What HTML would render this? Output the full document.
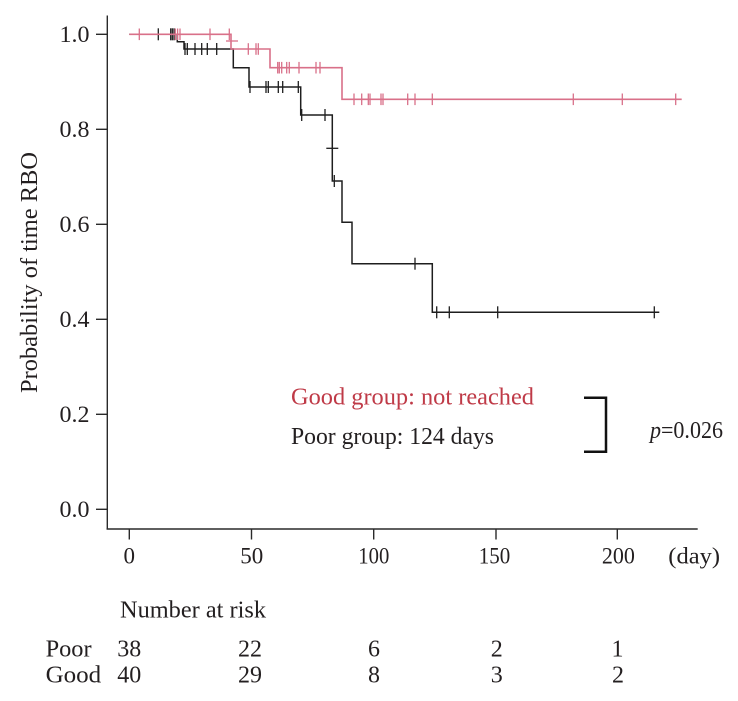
<!DOCTYPE html>
<html>
<head>
<meta charset="utf-8">
<style>
  html,body{margin:0;padding:0;background:#fff;}
  svg{display:block;}
  text{font-family:"Liberation Serif",serif;fill:#231f20;}
</style>
</head>
<body>
<svg width="738" height="701" viewBox="0 0 738 701" xmlns="http://www.w3.org/2000/svg">
  <rect width="738" height="701" fill="#fff"/>

  <!-- axes -->
  <g stroke="#2a2a2a" stroke-width="1.4" fill="none">
    <line x1="107.3" y1="15.5" x2="107.3" y2="529.5"/>
    <line x1="106.6" y1="529" x2="697.7" y2="529"/>
    <!-- y ticks -->
    <line x1="96" y1="34.3" x2="107.3" y2="34.3"/>
    <line x1="96" y1="129.3" x2="107.3" y2="129.3"/>
    <line x1="96" y1="224.3" x2="107.3" y2="224.3"/>
    <line x1="96" y1="319.3" x2="107.3" y2="319.3"/>
    <line x1="96" y1="414.3" x2="107.3" y2="414.3"/>
    <line x1="96" y1="509.3" x2="107.3" y2="509.3"/>
    <!-- x ticks -->
    <line x1="129.3" y1="529" x2="129.3" y2="539.5"/>
    <line x1="251.5" y1="529" x2="251.5" y2="539.5"/>
    <line x1="373.7" y1="529" x2="373.7" y2="539.5"/>
    <line x1="496" y1="529" x2="496" y2="539.5"/>
    <line x1="617.3" y1="529" x2="617.3" y2="539.5"/>
  </g>

  <!-- y tick labels -->
  <g font-size="23" text-anchor="end">
    <text x="89.5" y="42" textLength="30" lengthAdjust="spacingAndGlyphs">1.0</text>
    <text x="89.5" y="137" textLength="30" lengthAdjust="spacingAndGlyphs">0.8</text>
    <text x="89.5" y="232" textLength="30" lengthAdjust="spacingAndGlyphs">0.6</text>
    <text x="89.5" y="327" textLength="30" lengthAdjust="spacingAndGlyphs">0.4</text>
    <text x="89.5" y="422" textLength="30" lengthAdjust="spacingAndGlyphs">0.2</text>
    <text x="89.5" y="517" textLength="30" lengthAdjust="spacingAndGlyphs">0.0</text>
  </g>

  <!-- x tick labels -->
  <g font-size="23" text-anchor="middle">
    <text x="129.3" y="563.3">0</text>
    <text x="251.7" y="563.3" textLength="23" lengthAdjust="spacingAndGlyphs">50</text>
    <text x="373.8" y="563.3" textLength="31" lengthAdjust="spacingAndGlyphs">100</text>
    <text x="494.5" y="563.3" textLength="31.5" lengthAdjust="spacingAndGlyphs">150</text>
    <text x="618.4" y="563.3" textLength="33" lengthAdjust="spacingAndGlyphs">200</text>
  </g>
  <text x="668.3" y="563.3" font-size="23" textLength="51.7" lengthAdjust="spacingAndGlyphs">(day)</text>

  <!-- y axis label -->
  <text transform="translate(37,272.5) rotate(-90)" text-anchor="middle" font-size="24" textLength="241" lengthAdjust="spacingAndGlyphs">Probability of time RBO</text>

  <!-- Poor (black) curve -->
  <path d="M129.3,34.3 H177.3 V41.7 H184 V49 H233.3 V67.7 H249 V87 H300.7 V115 H332.3 V181 H342 V222.3 H352 V263.7 H432.3 V312.3 H659.3"
        fill="none" stroke="#1e1e1e" stroke-width="1.5"/>
  <g stroke="#1e1e1e" stroke-width="1.3">
    <!-- y 34.3 -->
    <line x1="158.3" y1="28.3" x2="158.3" y2="40.3"/>
    <line x1="170.7" y1="28.3" x2="170.7" y2="40.3"/>
    <line x1="172.3" y1="28.3" x2="172.3" y2="40.3"/>
    <line x1="174" y1="28.3" x2="174" y2="40.3"/>
    <!-- y 49 -->
    <line x1="185" y1="43" x2="185" y2="55"/>
    <line x1="187.3" y1="43" x2="187.3" y2="55"/>
    <line x1="195" y1="43" x2="195" y2="55"/>
    <line x1="201.7" y1="43" x2="201.7" y2="55"/>
    <line x1="207.3" y1="43" x2="207.3" y2="55"/>
    <line x1="216.7" y1="43" x2="216.7" y2="55"/>
    <!-- y 87 -->
    <line x1="250" y1="81" x2="250" y2="93"/>
    <line x1="266" y1="81" x2="266" y2="93"/>
    <line x1="268.3" y1="81" x2="268.3" y2="93"/>
    <line x1="278.3" y1="81" x2="278.3" y2="93"/>
    <line x1="282.7" y1="81" x2="282.7" y2="93"/>
    <line x1="298.3" y1="81" x2="298.3" y2="93"/>
    <!-- y 115 -->
    <line x1="301.7" y1="109" x2="301.7" y2="121"/>
    <line x1="325" y1="109" x2="325" y2="121"/>
    <!-- cross during drop -->
    <line x1="326.3" y1="148.3" x2="338.3" y2="148.3"/>
    <!-- y 181 -->
    <line x1="334.3" y1="175" x2="334.3" y2="187"/>
    <!-- y 263.7 -->
    <line x1="415" y1="257.7" x2="415" y2="269.7"/>
    <!-- y 312.3 -->
    <line x1="436.7" y1="306.3" x2="436.7" y2="318.3"/>
    <line x1="449.3" y1="306.3" x2="449.3" y2="318.3"/>
    <line x1="497.7" y1="306.3" x2="497.7" y2="318.3"/>
    <line x1="654.3" y1="306.3" x2="654.3" y2="318.3"/>
  </g>

  <!-- Good (pink) curve -->
  <path d="M129.3,34.3 H231 V49 H270 V67.7 H342 V99.3 H681.7"
        fill="none" stroke="#d97089" stroke-width="1.6"/>
  <g stroke="#d97089" stroke-width="1.3">
    <!-- y 34.3 -->
    <line x1="139.3" y1="28.5" x2="139.3" y2="40.1"/>
    <line x1="175.3" y1="28.5" x2="175.3" y2="40.1"/>
    <line x1="177.6" y1="28.5" x2="177.6" y2="40.1"/>
    <line x1="180" y1="28.5" x2="180" y2="40.1"/>
    <line x1="210" y1="28.5" x2="210" y2="40.1"/>
    <line x1="229.3" y1="28.5" x2="229.3" y2="40.1"/>
    <line x1="226" y1="41" x2="238" y2="41"/>
    <!-- y 49 -->
    <line x1="248.3" y1="43.2" x2="248.3" y2="54.8"/>
    <line x1="256" y1="43.2" x2="256" y2="54.8"/>
    <line x1="258.3" y1="43.2" x2="258.3" y2="54.8"/>
    <!-- y 67.7 -->
    <line x1="277.7" y1="61.9" x2="277.7" y2="73.5"/>
    <line x1="279.3" y1="61.9" x2="279.3" y2="73.5"/>
    <line x1="281.7" y1="61.9" x2="281.7" y2="73.5"/>
    <line x1="286.7" y1="61.9" x2="286.7" y2="73.5"/>
    <line x1="289.3" y1="61.9" x2="289.3" y2="73.5"/>
    <line x1="299" y1="61.9" x2="299" y2="73.5"/>
    <line x1="316" y1="61.9" x2="316" y2="73.5"/>
    <line x1="320" y1="61.9" x2="320" y2="73.5"/>
    <!-- y 99.3 -->
    <line x1="354" y1="93.5" x2="354" y2="105.1"/>
    <line x1="361.7" y1="93.5" x2="361.7" y2="105.1"/>
    <line x1="368.3" y1="93.5" x2="368.3" y2="105.1"/>
    <line x1="370" y1="93.5" x2="370" y2="105.1"/>
    <line x1="381" y1="93.5" x2="381" y2="105.1"/>
    <line x1="383" y1="93.5" x2="383" y2="105.1"/>
    <line x1="407.7" y1="93.5" x2="407.7" y2="105.1"/>
    <line x1="415" y1="93.5" x2="415" y2="105.1"/>
    <line x1="432.3" y1="93.5" x2="432.3" y2="105.1"/>
    <line x1="573.3" y1="93.5" x2="573.3" y2="105.1"/>
    <line x1="622.3" y1="93.5" x2="622.3" y2="105.1"/>
    <line x1="675.7" y1="93.5" x2="675.7" y2="105.1"/>
  </g>

  <!-- legend -->
  <text x="291" y="404.3" font-size="24" textLength="243" lengthAdjust="spacingAndGlyphs" style="fill:#bf3a47">Good group: not reached</text>
  <text x="291" y="444" font-size="24" textLength="203" lengthAdjust="spacingAndGlyphs">Poor group: 124 days</text>
  <path d="M584,397.7 H606 V451.7 H584" fill="none" stroke="#111" stroke-width="2.5"/>
  <text x="650" y="438" font-size="24" textLength="73" lengthAdjust="spacingAndGlyphs"><tspan font-style="italic">p</tspan>=0.026</text>

  <!-- number at risk -->
  <text x="120" y="617.3" font-size="24" textLength="146" lengthAdjust="spacingAndGlyphs">Number at risk</text>
  <g font-size="24">
    <text x="45.6" y="656.7" textLength="46" lengthAdjust="spacingAndGlyphs">Poor</text>
    <text x="45.6" y="682.3" textLength="55.6" lengthAdjust="spacingAndGlyphs">Good</text>
  </g>
  <g font-size="24" text-anchor="middle">
    <text x="129.3" y="656.7">38</text>
    <text x="250" y="656.7">22</text>
    <text x="374" y="656.7">6</text>
    <text x="496.7" y="656.7">2</text>
    <text x="617.5" y="656.7">1</text>
    <text x="129.3" y="682.3">40</text>
    <text x="250" y="682.3">29</text>
    <text x="374" y="682.3">8</text>
    <text x="496.7" y="682.3">3</text>
    <text x="618" y="682.3">2</text>
  </g>
</svg>
</body>
</html>
